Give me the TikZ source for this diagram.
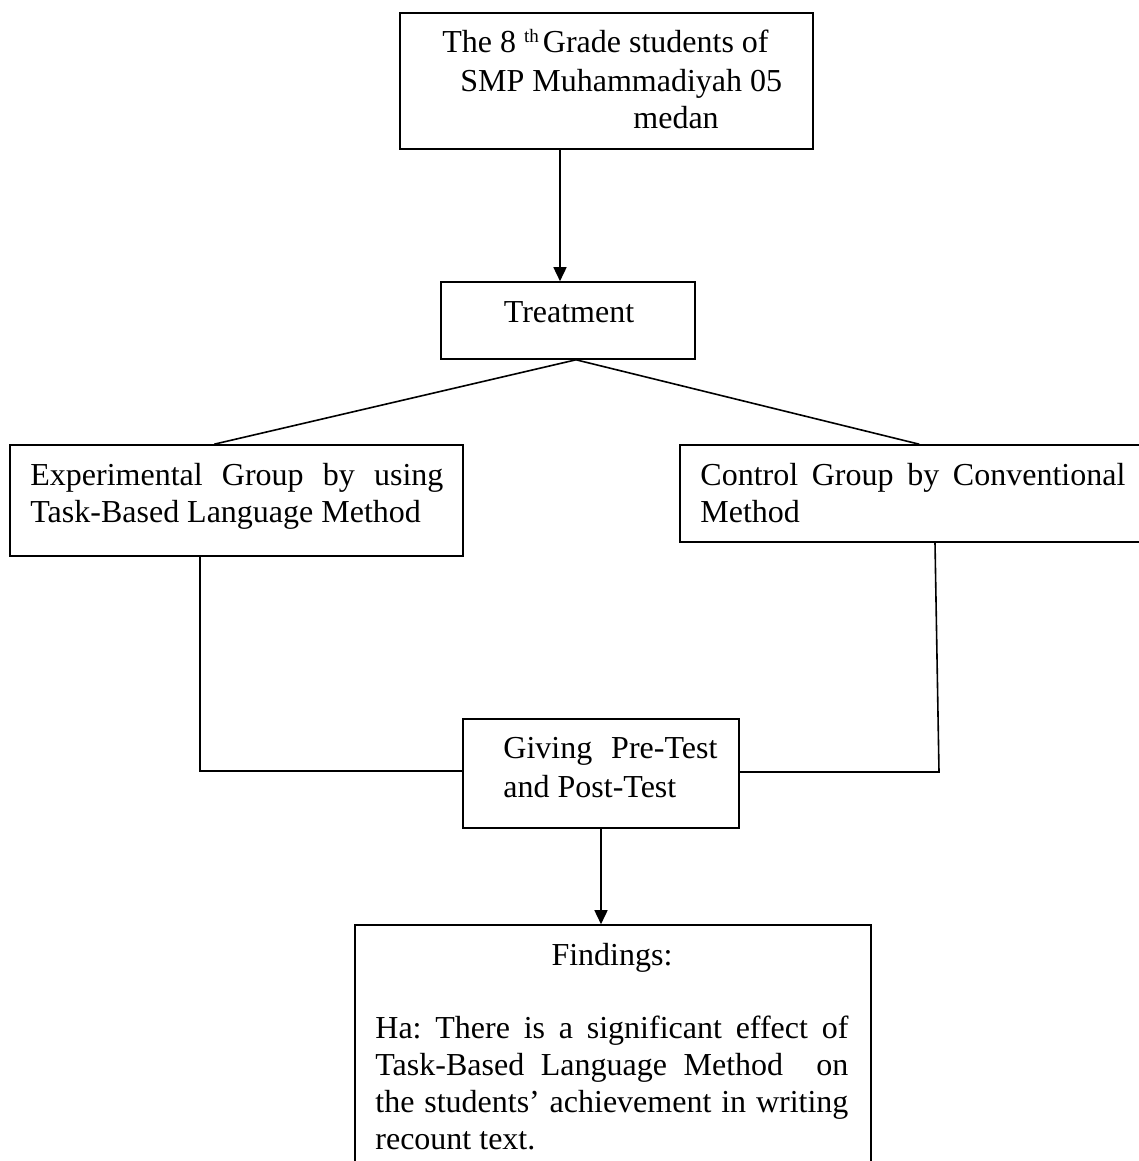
\documentclass[tikz,border=0pt]{standalone}
\usepackage{fontspec}
\setmainfont{Liberation Serif}
\usetikzlibrary{arrows.meta,calc}
\frenchspacing
\begin{document}
\begin{tikzpicture}[x=0.5pt,y=-0.5pt,
  boxnode/.style={draw,line width=0.8pt,inner sep=0pt,rectangle},
  txt/.style={inner sep=0pt,anchor=base west,font=\fontsize{16pt}{18.5pt}\selectfont},
  ctxt/.style={inner sep=0pt,anchor=base,font=\fontsize{16pt}{18.5pt}\selectfont},
  conn/.style={line width=0.8pt},
  arr/.style={line width=0.8pt,-{Triangle[length=7pt,width=6.5pt]}}]
\useasboundingbox (0,0) rectangle (1139,1161);
\clip (0,0) rectangle (1139,1161);
% boxes
\node[boxnode,minimum width=206.5pt,minimum height=68pt] (box1) at (606.5,81) {};
\node[boxnode,minimum width=127pt,minimum height=38.5pt] (treat) at (568,320.5) {};
\node[boxnode,minimum width=226.5pt,minimum height=55.5pt] (exp) at (236.5,500.5) {};
\node[boxnode,minimum width=235pt,minimum height=48.5pt] (ctrl) at (915,493.5) {};
\node[boxnode,minimum width=138pt,minimum height=54.5pt] (give) at (601,773.5) {};
\node[boxnode,minimum width=258pt,minimum height=127.5pt] (find) at (613,1052.5) {};
% texts
\node[txt] (box1a) at (442,53) {The 8 \raisebox{5pt}{\fontsize{9.5pt}{10pt}\selectfont th}\hspace{2pt}Grade students of};
\node[txt] (box1b) at (460,91) {SMP Muhammadiyah 05};
\node[txt] (box1c) at (633,128) {medan};
\node[ctxt] (treatt) at (569,322) {Treatment};
\node[txt] (expt) at (30,485) {\parbox[t]{206.5pt}{\baselineskip=18.5pt\makebox[206.5pt][s]{Experimental Group by using}\\Task-Based Language Method}};
\node[txt] (ctrlt) at (700,485) {\parbox[t]{212.5pt}{\baselineskip=18.5pt\makebox[212.5pt][s]{Control Group by Conventional}\\Method}};
\node[txt] (givet) at (503,758) {\parbox[t]{107pt}{\baselineskip=19.5pt\makebox[107pt][s]{Giving Pre-Test}\\and Post-Test}};
\node[ctxt] (findt) at (612,965) {Findings:};
\node[txt] (findb) at (375,1038) {\parbox[t]{236.5pt}{\baselineskip=18.5pt\makebox[236.5pt][s]{Ha: There is a significant effect of}\\\makebox[236.5pt][s]{Task-Based Language Method \ on}\\\makebox[236.5pt][s]{the students’ achievement in writing}\\recount text.}};
% helper coordinates
\coordinate (ax) at (560,0);
\coordinate (lx) at (200,771);
\coordinate (rtop) at (935,0);
\coordinate (rx) at (939,772);
% connectors
\draw[arr] (box1.south -| ax) -- (treat.north -| ax);
\draw[conn] ($(treat.south)+(8,0)$) -- ($(exp.north west)+(205,0)$);
\draw[conn] ($(treat.south)+(8,0)$) -- ($(ctrl.north west)+(240,0)$);
\draw[conn] (exp.south -| lx) -- (lx) -- (give.west |- lx);
\draw[conn] (ctrl.south -| rtop) -- (rx) -- (give.east |- rx);
\draw[arr] (give.south) -- (find.north -| give.south);
\end{tikzpicture}
\end{document}
